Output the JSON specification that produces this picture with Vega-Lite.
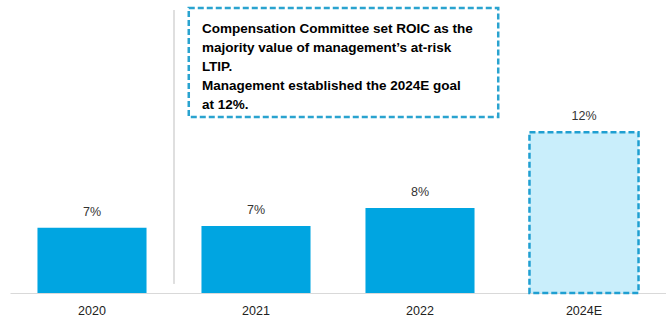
{
  "$schema": "https://vega.github.io/schema/vega-lite/v6.json",
  "width": 656,
  "height": 293,
  "padding": {"left": 10, "top": 0, "right": 0, "bottom": 0},
  "background": "white",
  "config": {"view": {"stroke": null}, "font": "Liberation Sans"},
  "datasets": {
    "bars": [
      {"year": "2020", "value": 6.95, "label": "7%", "kind": "actual"},
      {"year": "2021", "value": 7.05, "label": "7%", "kind": "actual"},
      {"year": "2022", "value": 8.0, "label": "8%", "kind": "actual"},
      {"year": "2024E", "value": 12.0, "label": "12%", "kind": "goal"}
    ],
    "note": [
      {"x0": 1.09, "x1": 2.977, "y0": 12.81, "y1": 18.58, "tx": 1.17, "ty": 17.83, "divx": 1.0, "divy0": 3.98, "divy1": 18.47,
       "text": "Compensation Committee set ROIC as the\nmajority value of management’s at-risk\nLTIP.\nManagement established the 2024E goal\nat 12%."}
    ]
  },
  "layer": [
    {
      "data": {"name": "bars"},
      "encoding": {
        "x": {
          "field": "year", "type": "nominal", "sort": null,
          "scale": {"paddingInner": 0.335, "paddingOuter": 0.1675},
          "axis": {"title": null, "labelAngle": 0, "ticks": false, "domainColor": "#d9d9d9", "labelFontSize": 12.5, "labelColor": "#222222", "labelPadding": 11, "grid": false}
        },
        "y": {"field": "value", "type": "quantitative", "scale": {"domain": [3.5, 19], "nice": false, "zero": false}, "axis": null}
      },
      "layer": [
        {
          "mark": {"type": "bar", "strokeDash": [6, 3]},
          "encoding": {
            "y2": {"datum": 3.5},
            "fill": {"field": "kind", "type": "nominal", "scale": {"domain": ["actual", "goal"], "range": ["#00a5e1", "#c9eefb"]}, "legend": null},
            "stroke": {"field": "kind", "type": "nominal", "scale": {"domain": ["actual", "goal"], "range": ["#00a5e1", "#1f9fd1"]}, "legend": null},
            "strokeWidth": {"field": "kind", "type": "nominal", "scale": {"domain": ["actual", "goal"], "range": [0, 2.5]}, "legend": null}
          }
        },
        {
          "mark": {"type": "text", "baseline": "bottom", "dy": -9, "fontSize": 12.5, "color": "#333333"},
          "encoding": {"text": {"field": "label"}}
        }
      ]
    },
    {
      "data": {"name": "note"},
      "layer": [
        {
          "mark": {"type": "rule", "color": "#bfbfbf", "strokeWidth": 1},
          "encoding": {
            "x": {"field": "divx", "type": "quantitative", "scale": {"domain": [0, 4], "nice": false, "zero": false}, "axis": null},
            "y": {"field": "divy0", "type": "quantitative", "axis": null},
            "y2": {"field": "divy1"}
          }
        },
        {
          "mark": {"type": "rect", "fill": "white", "stroke": "#2aa3cf", "strokeWidth": 2.5, "strokeDash": [6, 3]},
          "encoding": {
            "x": {"field": "x0", "type": "quantitative", "scale": {"domain": [0, 4], "nice": false, "zero": false}, "axis": null},
            "x2": {"field": "x1"},
            "y": {"field": "y0", "type": "quantitative", "axis": null},
            "y2": {"field": "y1"}
          }
        },
        {
          "mark": {"type": "text", "align": "left", "baseline": "top", "lineBreak": "\n", "lineHeight": 19, "fontSize": 13.5, "fontWeight": "bold", "color": "#000000"},
          "encoding": {
            "x": {"field": "tx", "type": "quantitative", "scale": {"domain": [0, 4], "nice": false, "zero": false}, "axis": null},
            "y": {"field": "ty", "type": "quantitative", "axis": null},
            "text": {"field": "text"}
          }
        }
      ]
    }
  ],
  "resolve": {"scale": {"x": "independent"}}
}
